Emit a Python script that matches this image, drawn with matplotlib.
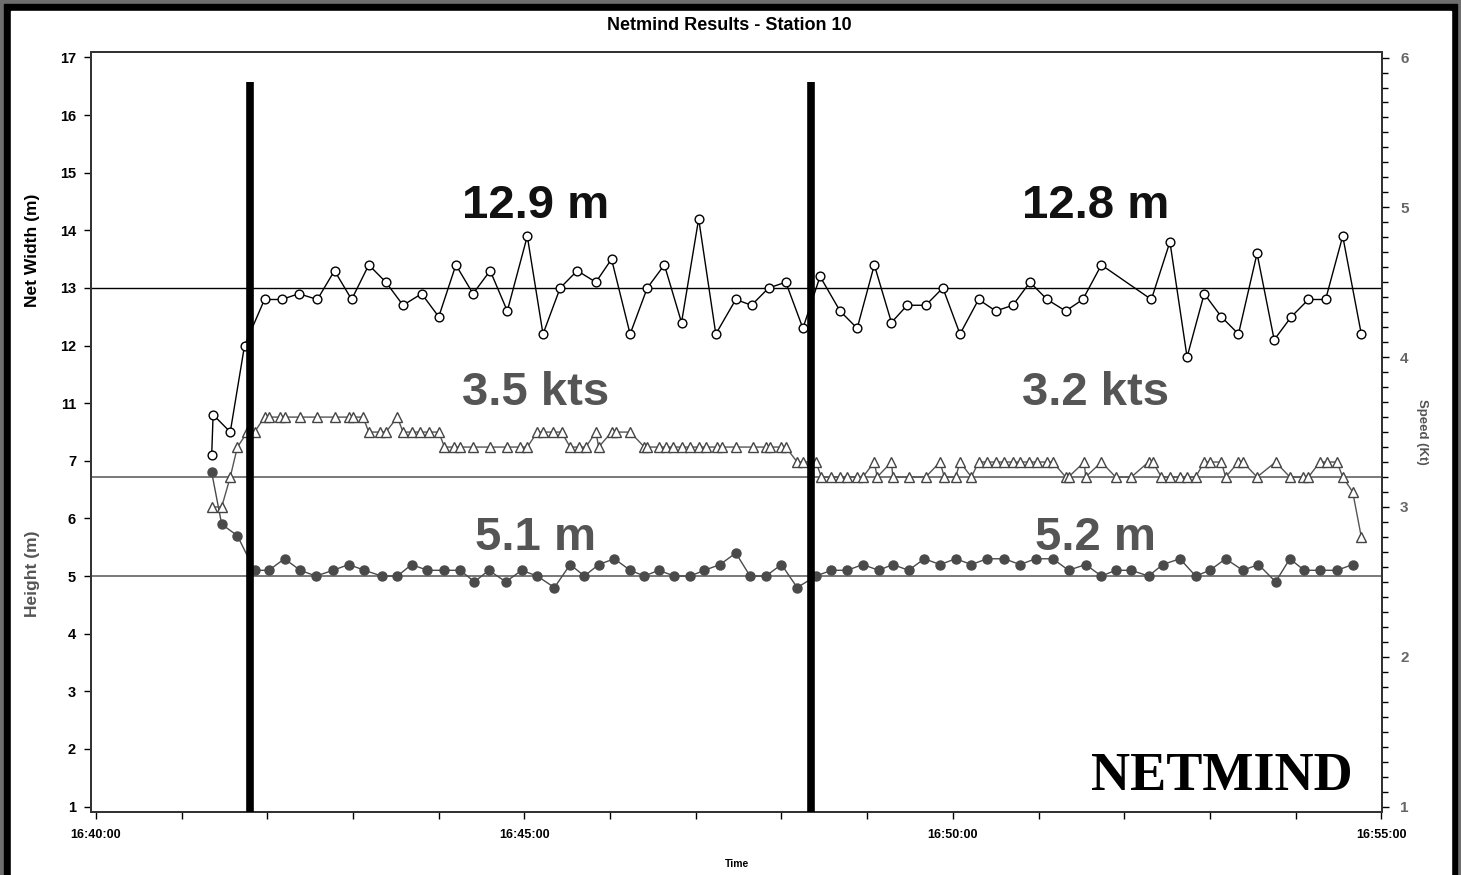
import matplotlib
matplotlib.use("Agg")
import pandas as pd
import matplotlib.pyplot as plt
import matplotlib.dates as mdates
from matplotlib.ticker import MultipleLocator
from matplotlib.patches import Rectangle

plt.rcParams["font.family"] = ["Liberation Sans", "DejaVu Sans"]
plt.rcParams["font.weight"] = "bold"

# Net width (m) - open circles
WIDTH_TIMES = [
    "16:41:21", "16:41:22", "16:41:34", "16:41:44", "16:41:58", "16:42:10",
    "16:42:22", "16:42:35", "16:42:47", "16:42:59", "16:43:11", "16:43:23",
    "16:43:35", "16:43:48", "16:44:00", "16:44:12", "16:44:24", "16:44:36",
    "16:44:48", "16:45:02", "16:45:13", "16:45:25", "16:45:37", "16:45:50",
    "16:46:01", "16:46:14", "16:46:26", "16:46:38", "16:46:50", "16:47:02",
    "16:47:14", "16:47:28", "16:47:39", "16:47:51", "16:48:03", "16:48:15",
    "16:48:27", "16:48:41", "16:48:53", "16:49:05", "16:49:17", "16:49:28",
    "16:49:41", "16:49:53", "16:50:05", "16:50:18", "16:50:30", "16:50:42",
    "16:50:54", "16:51:06", "16:51:19", "16:51:31", "16:51:44", "16:52:19",
    "16:52:32", "16:52:44", "16:52:56", "16:53:08", "16:53:20", "16:53:33",
    "16:53:45", "16:53:57", "16:54:09", "16:54:21", "16:54:33", "16:54:46",
]
WIDTH_VALUES = [
    10.1, 10.8, 10.5, 12.0, 12.8, 12.8,
    12.9, 12.8, 13.3, 12.8, 13.4, 13.1,
    12.7, 12.9, 12.5, 13.4, 12.9, 13.3,
    12.6, 13.9, 12.2, 13.0, 13.3, 13.1,
    13.5, 12.2, 13.0, 13.4, 12.4, 14.2,
    12.2, 12.8, 12.7, 13.0, 13.1, 12.3,
    13.2, 12.6, 12.3, 13.4, 12.4, 12.7,
    12.7, 13.0, 12.2, 12.8, 12.6, 12.7,
    13.1, 12.8, 12.6, 12.8, 13.4, 12.8,
    13.8, 11.8, 12.9, 12.5, 12.2, 13.6,
    12.1, 12.5, 12.8, 12.8, 13.9, 12.2,
]

# Speed (kt) - open triangles
SPEED_TIMES = [
    "16:41:21", "16:41:28", "16:41:34", "16:41:39", "16:41:46", "16:41:51",
    "16:41:58", "16:42:01", "16:42:09", "16:42:12", "16:42:23", "16:42:35",
    "16:42:47", "16:42:57", "16:43:00", "16:43:07", "16:43:11", "16:43:19",
    "16:43:23", "16:43:31", "16:43:35", "16:43:41", "16:43:47", "16:43:53",
    "16:44:00", "16:44:04", "16:44:11", "16:44:15", "16:44:24", "16:44:36",
    "16:44:48", "16:44:57", "16:45:02", "16:45:09", "16:45:13", "16:45:20",
    "16:45:26", "16:45:32", "16:45:38", "16:45:43", "16:45:50", "16:45:52",
    "16:46:01", "16:46:04", "16:46:14", "16:46:24", "16:46:26", "16:46:34",
    "16:46:39", "16:46:44", "16:46:50", "16:46:56", "16:47:02", "16:47:07",
    "16:47:15", "16:47:18", "16:47:28", "16:47:40", "16:47:49", "16:47:52",
    "16:48:00", "16:48:03", "16:48:11", "16:48:15", "16:48:24", "16:48:28",
    "16:48:35", "16:48:41", "16:48:46", "16:48:53", "16:48:57", "16:49:05",
    "16:49:07", "16:49:17", "16:49:18", "16:49:29", "16:49:41", "16:49:51",
    "16:49:54", "16:50:02", "16:50:05", "16:50:13", "16:50:18", "16:50:24",
    "16:50:30", "16:50:36", "16:50:42", "16:50:47", "16:50:53", "16:50:59",
    "16:51:06", "16:51:10", "16:51:19", "16:51:21", "16:51:32", "16:51:33",
    "16:51:44", "16:51:54", "16:52:05", "16:52:17", "16:52:20", "16:52:26",
    "16:52:32", "16:52:39", "16:52:44", "16:52:50", "16:52:56", "16:53:00",
    "16:53:08", "16:53:11", "16:53:20", "16:53:23", "16:53:33", "16:53:46",
    "16:53:56", "16:54:05", "16:54:09", "16:54:17", "16:54:22", "16:54:29",
    "16:54:33", "16:54:40", "16:54:46",
]
SPEED_VALUES = [
    3.0, 3.0, 3.2, 3.4, 3.5, 3.5,
    3.6, 3.6, 3.6, 3.6, 3.6, 3.6,
    3.6, 3.6, 3.6, 3.6, 3.5, 3.5,
    3.5, 3.6, 3.5, 3.5, 3.5, 3.5,
    3.5, 3.4, 3.4, 3.4, 3.4, 3.4,
    3.4, 3.4, 3.4, 3.5, 3.5, 3.5,
    3.5, 3.4, 3.4, 3.4, 3.5, 3.4,
    3.5, 3.5, 3.5, 3.4, 3.4, 3.4,
    3.4, 3.4, 3.4, 3.4, 3.4, 3.4,
    3.4, 3.4, 3.4, 3.4, 3.4, 3.4,
    3.4, 3.4, 3.3, 3.3, 3.3, 3.2,
    3.2, 3.2, 3.2, 3.2, 3.2, 3.3,
    3.2, 3.3, 3.2, 3.2, 3.2, 3.3,
    3.2, 3.2, 3.3, 3.2, 3.3, 3.3,
    3.3, 3.3, 3.3, 3.3, 3.3, 3.3,
    3.3, 3.3, 3.2, 3.2, 3.3, 3.2,
    3.3, 3.2, 3.2, 3.3, 3.3, 3.2,
    3.2, 3.2, 3.2, 3.2, 3.3, 3.3,
    3.3, 3.2, 3.3, 3.3, 3.2, 3.3,
    3.2, 3.2, 3.2, 3.3, 3.3, 3.3,
    3.2, 3.1, 2.8,
]

# Headline height (m) - filled circles
HEIGHT_TIMES = [
    "16:41:21", "16:41:28", "16:41:39", "16:41:51", "16:42:01", "16:42:12",
    "16:42:23", "16:42:34", "16:42:46", "16:42:57", "16:43:08", "16:43:20",
    "16:43:31", "16:43:41", "16:43:52", "16:44:04", "16:44:15", "16:44:25",
    "16:44:35", "16:44:47", "16:44:58", "16:45:09", "16:45:21", "16:45:32",
    "16:45:42", "16:45:52", "16:46:03", "16:46:14", "16:46:24", "16:46:34",
    "16:46:45", "16:46:56", "16:47:06", "16:47:17", "16:47:28", "16:47:38",
    "16:47:49", "16:48:00", "16:48:11", "16:48:24", "16:48:35", "16:48:46",
    "16:48:57", "16:49:08", "16:49:18", "16:49:29", "16:49:40", "16:49:51",
    "16:50:02", "16:50:13", "16:50:24", "16:50:36", "16:50:47", "16:50:58",
    "16:51:10", "16:51:21", "16:51:33", "16:51:44", "16:51:54", "16:52:05",
    "16:52:17", "16:52:27", "16:52:39", "16:52:50", "16:53:00", "16:53:11",
    "16:53:23", "16:53:34", "16:53:46", "16:53:56", "16:54:06", "16:54:17",
    "16:54:29", "16:54:40",
]
HEIGHT_VALUES = [
    6.8, 5.9, 5.7, 5.1, 5.1, 5.3,
    5.1, 5.0, 5.1, 5.2, 5.1, 5.0,
    5.0, 5.2, 5.1, 5.1, 5.1, 4.9,
    5.1, 4.9, 5.1, 5.0, 4.8, 5.2,
    5.0, 5.2, 5.3, 5.1, 5.0, 5.1,
    5.0, 5.0, 5.1, 5.2, 5.4, 5.0,
    5.0, 5.2, 4.8, 5.0, 5.1, 5.1,
    5.2, 5.1, 5.2, 5.1, 5.3, 5.2,
    5.3, 5.2, 5.3, 5.3, 5.2, 5.3,
    5.3, 5.1, 5.2, 5.0, 5.1, 5.1,
    5.0, 5.2, 5.3, 5.0, 5.1, 5.3,
    5.1, 5.2, 4.9, 5.3, 5.1, 5.1,
    5.1, 5.2,
]

# tow segments and their averages
SEGMENT_BREAKS = ["16:41:48", "16:48:21"]
LABEL_TIMES = ["16:45:08", "16:51:40"]
WIDTH_LABELS = ["12.9 m", "12.8 m"]
SPEED_LABELS = ["3.5 kts", "3.2 kts"]
HEIGHT_LABELS = ["5.1 m", "5.2 m"]
WIDTH_REF = 13.0
SPEED_REF = 3.2
HEIGHT_REF = 5.0

HEIGHT_TICKS = [1, 2, 3, 4, 5, 6, 7]
WIDTH_TICKS = [11, 12, 13, 14, 15, 16, 17]
SPEED_TICKS = [1, 2, 3, 4, 5, 6]
X_START, X_END = "16:39:56.7", "16:55:00.5"


def to_time(values):
    return pd.to_datetime(values, format="mixed")


def main():
    fig = plt.figure(figsize=(14.61, 8.75), dpi=100)
    fig.patch.set_facecolor("#6e6e6e")
    W, H = 1461.0, 875.0
    fig.patches.append(Rectangle((4 / W, -0.01), 1453 / W, 1.01 - 4 / H,
                                 transform=fig.transFigure, color="black", zorder=-2))
    fig.patches.append(Rectangle((10.7 / W, -0.01), 1440 / W, 1.01 - 10.7 / H,
                                 transform=fig.transFigure, color="white", zorder=-1))

    ax_h = fig.add_axes([91.3 / W, 1 - 812.3 / H, 1290.7 / W, 760 / H])
    ax_h.patch.set_alpha(0)
    ax_w = ax_h.twinx()
    ax_s = ax_h.twinx()

    # broken left scale: height 1-7 below, net width 11-17 above
    ax_h.set_ylim(0.9, 14.09)
    ax_w.set_ylim(3.9, 17.09)
    ax_s.set_ylim(0.962, 6.035)
    ax_h.set_xlim(to_time([X_START, X_END]))

    # reference lines
    ax_h.axhline(HEIGHT_REF, color="#555555", lw=1.1, zorder=1)
    ax_w.axhline(WIDTH_REF, color="black", lw=1.0, zorder=1)
    ax_s.axhline(SPEED_REF, color="#555555", lw=1.1, zorder=1)

    ax_h.plot(to_time(HEIGHT_TIMES), HEIGHT_VALUES, color="#4a4a4a", lw=1.0,
              marker="o", ms=6.5, mfc="#4a4a4a", mec="#4a4a4a", zorder=3)
    ax_w.plot(to_time(WIDTH_TIMES), WIDTH_VALUES, color="black", lw=1.0,
              marker="o", ms=6.3, mfc="white", mec="black", mew=1.0, zorder=3)
    ax_s.plot(to_time(SPEED_TIMES), SPEED_VALUES, color="#555555", lw=1.0,
              marker="^", ms=7.5, mfc="white", mec="#444444", mew=1.0, zorder=3)

    # segment separators
    ax_s.vlines(to_time(SEGMENT_BREAKS), 0.962, 5.84, color="black", lw=5.5, zorder=5)

    # segment averages
    xt = ax_s.get_xaxis_transform()
    for t, wl, sl, hl in zip(to_time(LABEL_TIMES), WIDTH_LABELS, SPEED_LABELS, HEIGHT_LABELS):
        ax_s.text(t, 0.782, wl, transform=xt, ha="center", va="baseline",
                  fontsize=34, fontweight="bold", color="#111111")
        ax_s.text(t, 0.536, sl, transform=xt, ha="center", va="baseline",
                  fontsize=34, fontweight="bold", color="#555555")
        ax_s.text(t, 0.345, hl, transform=xt, ha="center", va="baseline",
                  fontsize=34, fontweight="bold", color="#555555")

    ax_s.text(0.8757, 0.029, "NETMIND", transform=ax_s.transAxes, ha="center",
              va="baseline", fontsize=39, fontweight="bold",
              family=["Liberation Serif", "DejaVu Serif"], color="black")

    # left ticks
    ax_h.set_yticks(HEIGHT_TICKS)
    ax_w.yaxis.tick_left()
    ax_w.set_yticks(WIDTH_TICKS)
    for ax in (ax_h, ax_w):
        ax.tick_params(axis="y", direction="out", length=5, width=1,
                       labelsize=10.5, labelcolor="black", pad=6)

    # right speed ticks
    ax_s.set_yticks(SPEED_TICKS)
    ax_s.yaxis.set_minor_locator(MultipleLocator(0.1))
    ax_s.tick_params(axis="y", which="major", direction="out", length=5,
                     width=1, labelsize=11, labelcolor="#666666", pad=8)
    ax_s.tick_params(axis="y", which="minor", direction="out", length=4, width=1)

    # time axis
    ax_h.xaxis.set_major_locator(mdates.MinuteLocator(byminute=range(0, 60, 5)))
    ax_h.xaxis.set_minor_locator(mdates.MinuteLocator())
    ax_h.xaxis.set_major_formatter(mdates.DateFormatter("%H:%M:%S"))
    ax_h.tick_params(axis="x", which="both", direction="out", length=5, width=1,
                     labelsize=9, pad=7)

    for ax in (ax_h, ax_w, ax_s):
        for sp in ax.spines.values():
            sp.set_color("#333333")
            sp.set_linewidth(1.2)

    ax_w.yaxis.set_label_position("left")
    ax_w.set_ylabel("Net Width (m)", fontsize=12.5, fontweight="bold", color="black")
    ax_w.yaxis.set_label_coords(-0.0397, 0.74)
    ax_h.set_ylabel("Height (m)", fontsize=12.5, fontweight="bold", color="#555555")
    ax_h.yaxis.set_label_coords(-0.0397, 0.314)
    ax_s.set_ylabel("Speed (Kt)", fontsize=9.5, fontweight="bold", color="#555555",
                    rotation=270, va="center")
    ax_s.yaxis.set_label_coords(1.031, 0.5)
    ax_h.set_xlabel("Time", fontsize=7.5, fontweight="bold")
    ax_h.xaxis.set_label_coords(0.5, -0.061)

    fig.text(729.5 / W, 1 - 25 / H, "Netmind Results - Station 10", ha="center",
             va="center", fontsize=13, fontweight="bold")

    fig.savefig("out.png", dpi=100, facecolor=fig.get_facecolor())
    plt.close(fig)


if __name__ == "__main__":
    main()
